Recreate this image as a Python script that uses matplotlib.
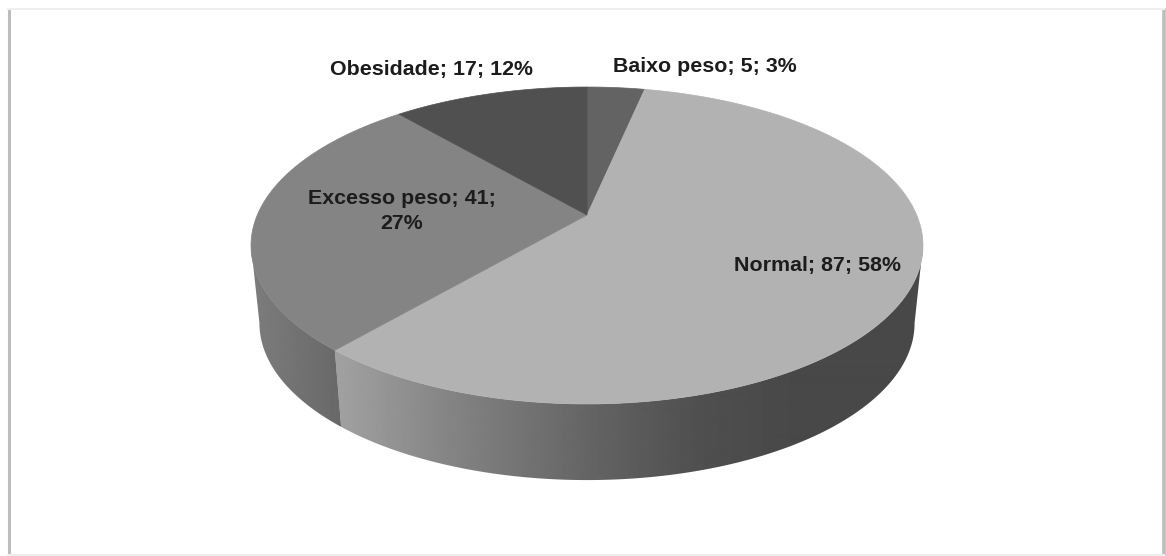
#!/usr/bin/env python3
'''3D looking pie of weight classes'''
import numpy as np
import matplotlib
matplotlib.use('Agg')
import matplotlib.pyplot as plt
from matplotlib.patches import Polygon

W, H = 1166, 556

categories = ['Baixo peso', 'Normal', 'Excesso peso', 'Obesidade']
values = [5, 87, 41, 17]
percents = [3, 58, 27, 12]

top_colors = ['#636363', '#b2b2b2', '#848484', '#505050']
label_pos = [(705, 67), (817, 266), (402, 211), (431, 70)]

# pie apex on the page and the perspective of the disc
CX, CY = 587, 215
A, B, K = 329.7, 152.6, 0.1924
DEPTH = 78


def rim(theta, lower=False):
    # theta is clockwise from 12 o'clock, radians
    u, v = np.sin(theta), np.cos(theta)
    w = 1 + K * v
    x, y = A * u / w, -B * v / w
    if lower:
        x, y = x * 0.975, y * 0.99 + DEPTH
    return CX + x, CY + y


def wall(ax, t0, t1, xs, greys):
    th = np.linspace(t0, t1, 200)
    xa, ya = rim(th)
    xb, yb = rim(th[::-1], lower=True)
    pts = np.column_stack([np.r_[xa, xb], np.r_[ya, yb]])
    poly = Polygon(pts, closed=True, fc='none', ec='none', transform=ax.transData)
    ax.add_patch(poly)
    ramp = np.interp(np.arange(W), xs, greys)[None, :]
    im = ax.imshow(ramp, cmap='gray', vmin=0, vmax=255, aspect='auto',
                   extent=(0, W, H, 0), zorder=2, interpolation='bilinear')
    im.set_clip_path(poly)


def run():
    fig = plt.figure(figsize=(W / 100, H / 100), dpi=100)
    ax = fig.add_axes([0, 0, 1, 1])

    angles = 2 * np.pi * np.r_[0, np.cumsum(values)] / np.sum(values)

    # side walls, normal and excesso are the only ones facing us
    wall(ax, np.radians(101), angles[2], [342, 450, 600, 700, 800, 900],
         [160, 132, 98, 79, 72, 72])
    wall(ax, angles[2], np.radians(259), [255, 342], [124, 104])

    for i, col in enumerate(top_colors):
        th = np.linspace(angles[i], angles[i + 1], 200)
        x, y = rim(th)
        ax.fill(np.r_[CX, x], np.r_[CY, y], color=col, lw=0.5, zorder=3)

    for cat, val, pct, pos in zip(categories, values, percents, label_pos):
        txt = f'{cat}; {val}; {pct}%'
        if cat == 'Excesso peso':
            txt = f'{cat}; {val};\n{pct}%'
        ax.text(pos[0], pos[1], txt, ha='center', va='center', fontsize=15.4,
                family='Liberation Sans', fontweight='bold', color='#1c1c1c',
                linespacing=1.38, zorder=4)

    # page frame with its soft shadow
    ax.plot([8.5, 8.5], [10, H], color='#bdbdbd', lw=2.2, zorder=1)
    ax.plot([1163.5, 1163.5], [10, H], color='#bdbdbd', lw=2.6, zorder=1)
    ax.plot([8, 1164], [9, 9], color='#efefef', lw=1.5, zorder=1)
    ax.plot([8, 1164], [555, 555], color='#efefef', lw=1.5, zorder=1)

    ax.set_xlim(0, W)
    ax.set_ylim(H, 0)
    ax.axis('off')
    fig.savefig('out.png', dpi=100)


if __name__ == '__main__':
    run()
